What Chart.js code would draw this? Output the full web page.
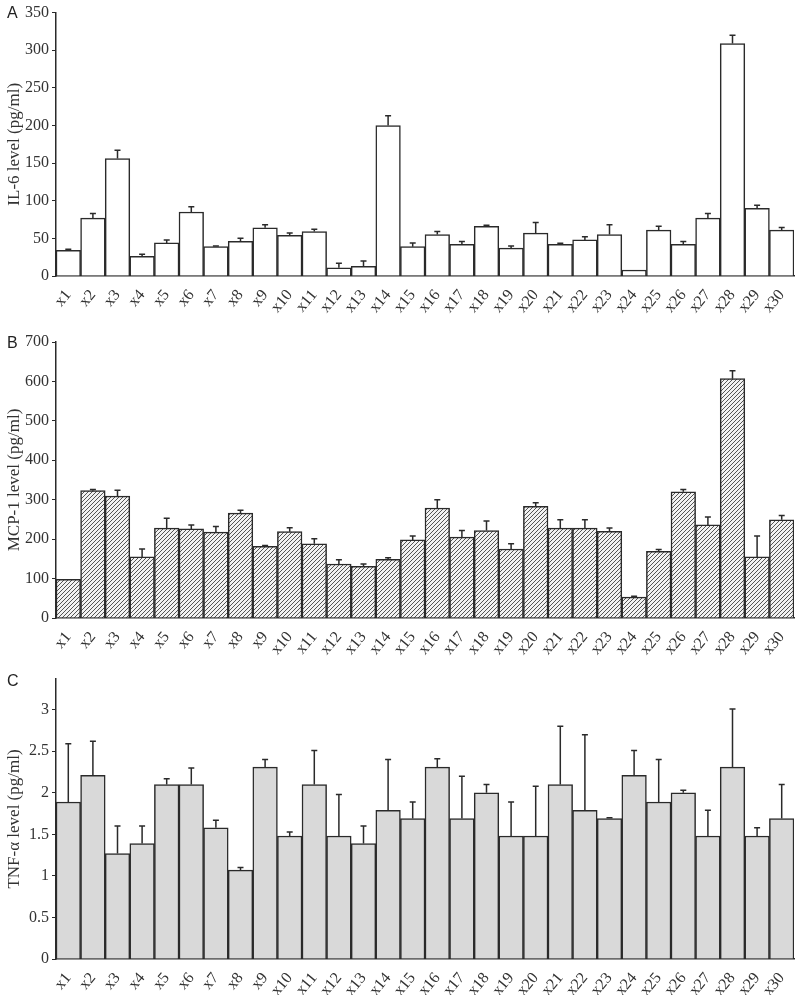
<!DOCTYPE html>
<html>
<head>
<meta charset="utf-8">
<script src="https://cdn.jsdelivr.net/npm/chart.js@4/dist/chart.umd.min.js"></script>
<style>
  body { margin: 0; background: #fff; }
  #wrap { position: relative; width: 800px; height: 995px; overflow: hidden; }
  canvas { position: absolute; left: 0; }
  .tag { position: absolute; left: 7px; font: 16px "Liberation Sans", Arial, sans-serif; color: #222; }
</style>
</head>
<body>
<div id="wrap">
  <canvas id="il6Chart" width="800" height="320" style="top:0"></canvas>
  <canvas id="mcpChart" width="800" height="342" style="top:320px"></canvas>
  <canvas id="tnfChart" width="800" height="335" style="top:660px"></canvas>
  <div class="tag" style="top:4px">A</div>
  <div class="tag" style="top:334px">B</div>
  <div class="tag" style="top:672px">C</div>
</div>
<script>
// Categories
const samples = Array.from({length: 30}, (_, i) => 'x' + (i + 1));

// IL-6 (pg/ml): mean and upper error
const il6Means = [34, 77, 156, 26, 44, 85, 39, 46, 64, 54, 59, 11, 13, 200, 39,
                  55, 42, 66, 37, 57, 42, 48, 55, 8, 61, 42, 77, 309, 90, 61];
const il6Err = [1.5, 6, 11, 3, 4, 7, 1, 4, 4, 3, 3, 6, 7, 13, 5,
                4, 4, 1.5, 3, 14, 1.5, 4, 13, 0, 5, 4, 6, 11, 4, 3.5];

// MCP-1 (pg/ml)
const mcpMeans = [98, 323, 309, 155, 228, 226, 218, 266, 182, 219, 188, 137, 131, 149, 198,
                  279, 205, 222, 175, 283, 228, 228, 220, 53, 169, 320, 236, 607, 155, 249];
const mcpErr = [0, 3, 15, 20, 25, 10, 14, 7, 2, 10, 13, 11, 6, 4, 10,
                21, 17, 24, 13, 9, 21, 21, 8, 2, 5, 6, 20, 20, 53, 11];

// TNF-α (pg/ml)
const tnfMeans = [1.89, 2.21, 1.27, 1.39, 2.10, 2.10, 1.58, 1.07, 2.31, 1.48, 2.10, 1.48, 1.39, 1.79, 1.69,
                  2.31, 1.69, 2.00, 1.48, 1.48, 2.10, 1.79, 1.69, 2.21, 1.89, 2.00, 1.48, 2.31, 1.48, 1.69];
const tnfErr = [0.70, 0.41, 0.33, 0.21, 0.07, 0.20, 0.09, 0.03, 0.09, 0.05, 0.41, 0.50, 0.21, 0.61, 0.20,
                0.10, 0.51, 0.10, 0.41, 0.60, 0.70, 0.91, 0.01, 0.30, 0.51, 0.03, 0.31, 0.70, 0.10, 0.41];

const serif = '"Liberation Serif", "Times New Roman", serif';
const ink = '#2a2a2a';

// Draw one-sided (upper) error bars on top of the bars
const errorBars = {
    id: 'errorBars',
    afterDatasetsDraw(chart, args, opts) {
        const ctx = chart.ctx;
        const y = chart.scales.y;
        const values = chart.data.datasets[0].data;
        const meta = chart.getDatasetMeta(0);
        ctx.save();
        ctx.strokeStyle = ink;
        ctx.lineWidth = 1.5;
        meta.data.forEach((bar, i) => {
            const err = opts.errors[i];
            if (!err) return;
            const yTop = y.getPixelForValue(values[i] + err);
            ctx.beginPath();
            ctx.moveTo(bar.x, bar.y);
            ctx.lineTo(bar.x, yTop);
            ctx.moveTo(bar.x - 3, yTop);
            ctx.lineTo(bar.x + 3, yTop);
            ctx.stroke();
        });
        ctx.restore();
    }
};

// Diagonal hatch for MCP-1 bars
function makeHatch() {
    const c = document.createElement('canvas');
    c.width = 4; c.height = 4;
    const g = c.getContext('2d');
    g.fillStyle = '#f2f2f2';
    g.fillRect(0, 0, 4, 4);
    g.strokeStyle = '#555';
    g.lineWidth = 1;
    g.beginPath();
    g.moveTo(-1, 5); g.lineTo(5, -1);
    g.moveTo(-1, 1); g.lineTo(1, -1);
    g.moveTo(3, 5); g.lineTo(5, 3);
    g.stroke();
    return g.createPattern(c, 'repeat');
}

function makeChart(id, means, errors, fill, title, max, step, padTop, xHeight) {
    const ctx = document.getElementById(id).getContext('2d');
    return new Chart(ctx, {
        type: 'bar',
        data: {
            labels: samples,
            datasets: [{
                data: means,
                backgroundColor: fill,
                borderColor: ink,
                borderWidth: 1.5,
                categoryPercentage: 1,
                barPercentage: 1
            }]
        },
        options: {
            responsive: false,
            animation: false,
            layout: { padding: { top: padTop, right: 6, left: 0, bottom: 0 } },
            plugins: {
                legend: { display: false },
                tooltip: { enabled: false },
                errorBars: { errors: errors }
            },
            scales: {
                x: {
                    grid: { display: false },
                    border: { display: true, color: ink, width: 1.5 },
                    ticks: {
                        autoSkip: false,
                        minRotation: 50,
                        maxRotation: 50,
                        color: '#333',
                        padding: 2,
                        font: { family: serif, size: 16 }
                    },
                    afterFit: s => { s.height = xHeight; }
                },
                y: {
                    min: 0,
                    max: max,
                    grid: { drawOnChartArea: false, drawTicks: true, tickLength: 4, color: ink },
                    border: { display: true, color: ink, width: 1.5 },
                    ticks: {
                        stepSize: step,
                        color: '#333',
                        padding: 3,
                        font: { family: serif, size: 16 },
                        callback: v => String(Math.round(v * 100) / 100)
                    },
                    afterBuildTicks: s => {
                        s.ticks = s.ticks.filter(t => Math.abs(t.value / step - Math.round(t.value / step)) < 1e-6);
                    },
                    title: {
                        display: true,
                        text: title,
                        color: '#333',
                        font: { family: serif, size: 17 },
                        padding: { top: 4, bottom: 0 }
                    },
                    afterFit: s => { s.width = 56; }
                }
            }
        },
        plugins: [errorBars]
    });
}

makeChart('il6Chart', il6Means, il6Err, '#ffffff', 'IL-6 level (pg/ml)', 350, 50, 12, 44);
makeChart('mcpChart', mcpMeans, mcpErr, makeHatch(), 'MCP-1 level (pg/ml)', 700, 100, 22, 44);
makeChart('tnfChart', tnfMeans, tnfErr, '#d9d9d9', 'TNF-α level (pg/ml)', 3.37, 0.5, 19, 36);
</script>
</body>
</html>
